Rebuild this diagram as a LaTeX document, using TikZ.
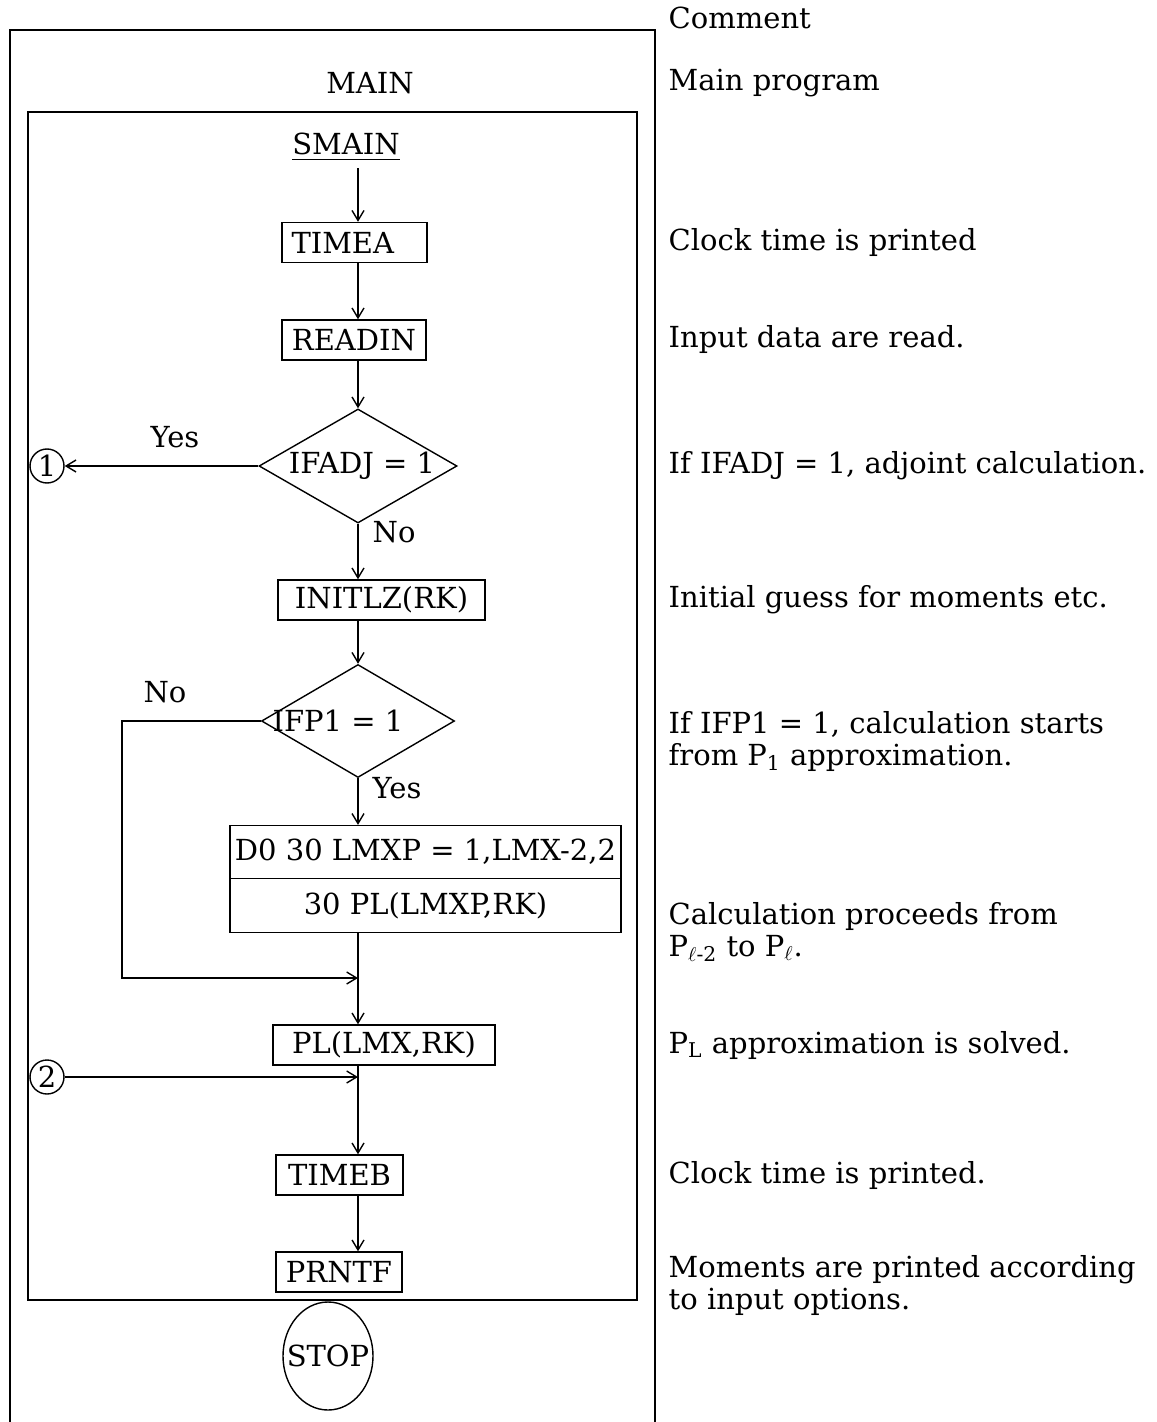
\documentclass[tikz,border=0pt]{standalone}
\usepackage{amsmath}
\usepackage{fontspec}
\setmainfont{DejaVu Serif}
\usetikzlibrary{arrows.meta, shapes.geometric, shapes.multipart}

\begin{document}
\begin{tikzpicture}[x=0.5pt, y=-0.5pt,
    font=\fontsize{14.5}{16}\selectfont,
    line width=0.7pt,
    flowArrow/.style={-{Straight Barb[length=5pt,width=6pt]}},
    progBox/.style={draw, rectangle, minimum height=20pt, inner sep=2pt},
    testBox/.style={draw, diamond, inner sep=0pt},
    jumpPt/.style={draw, circle, minimum size=17pt, inner sep=0pt},
    cmtText/.style={anchor=west, align=left, inner sep=0pt}]
    \useasboundingbox (0,0) rectangle (1156,1422);
    \newcommand{\SpineX}{358};
    \coordinate (cSpine) at (\SpineX,0);
    \coordinate (cBendB) at (122,978);
    \coordinate (cJoinA) at (\SpineX,978);
    \coordinate (cJoinB) at (\SpineX,1077);
    % frames
    \draw (10,1422) -- (10,30) -- (655,30) -- (655,1422);
    \draw (28,112) rectangle (637,1300);
    % flow chart
    \node (nMain) at (370,83) {MAIN};
    \node (nSmain) at (346,147) {\underline{SMAIN}};
    \node[progBox, minimum width=72.5pt, text width=63pt, inner xsep=4.75pt, align=left] (nTimeA) at (354.5,242.5) {TIMEA};
    \node[progBox, minimum width=72pt] (nReadin) at (354,340) {READIN};
    \node[testBox, minimum width=99pt, minimum height=57pt,
        label={[name=nAdjTxt, xshift=2pt]center:IFADJ = 1}] (nAdj) at (\SpineX,466) {};
    \node[jumpPt] (nJumpA) at (47,466) {1};
    \node (nYesA) at (175,437) {Yes};
    \node[anchor=west, inner sep=0pt] (nNoA) at (372,532) {No};
    \node[progBox, minimum width=103.5pt] (nInit) at (381.5,600) {INITLZ(RK)};
    \node[testBox, minimum width=96.5pt, minimum height=56.5pt,
        label={[name=nP1Txt, xshift=-10pt]center:IFP1 = 1}] (nP1) at (\SpineX,721) {};
    \node (nNoB) at (165,692) {No};
    \node[anchor=west, inner sep=0pt] (nYesB) at (372,788) {Yes};
    \node[progBox, rectangle split, rectangle split parts=2, minimum width=195.5pt, inner ysep=6.5pt]
        (nLoop) at (425.5,879) {D0 30 LMXP = 1,LMX-2,2\nodepart{two}30 PL(LMXP,RK)};
    \node[progBox, minimum width=111pt] (nPlMax) at (384,1045) {PL(LMX,RK)};
    \node[jumpPt] (nJumpB) at (47,1077) {2};
    \node[progBox, minimum width=63.5pt] (nTimeB) at (339.5,1175) {TIMEB};
    \node[progBox, minimum width=63pt] (nPrnt) at (339,1272) {PRNTF};
    \node[draw, ellipse, minimum width=45pt, minimum height=54pt, inner sep=0pt,
        label={[name=nStopTxt]center:STOP}] (nStop) at (328,1356) {};
    % connectors
    \draw[flowArrow] (nSmain.south -| cSpine) -- (nTimeA.north -| cSpine);
    \draw[flowArrow] (nTimeA.south -| cSpine) -- (nReadin.north -| cSpine);
    \draw[flowArrow] (nReadin.south -| cSpine) -- (nAdj.north);
    \draw[flowArrow] (nAdj.west) -- (nJumpA);
    \draw[flowArrow] (nAdj.south) -- (nInit.north -| cSpine);
    \draw[flowArrow] (nInit.south -| cSpine) -- (nP1.north);
    \draw[flowArrow] (nP1.south) -- (nLoop.north -| cSpine);
    \draw[flowArrow] (nP1.west) -| (cBendB) -- (cJoinA);
    \draw[flowArrow] (nLoop.south -| cSpine) -- (nPlMax.north -| cSpine);
    \draw[flowArrow] (nJumpB) -- (cJoinB);
    \draw[flowArrow] (nPlMax.south -| cSpine) -- (nTimeB.north -| cSpine);
    \draw[flowArrow] (nTimeB.south -| cSpine) -- (nPrnt.north -| cSpine);
    % comments
    \foreach \y/\t [count=\i] in {18/{Comment}, 83/{Main program},
        243/{Clock time is printed}, 340/{Input data are read.},
        466/{If IFADJ = 1, adjoint calculation.},
        600/{Initial guess for moments etc.},
        741/{If IFP1 = 1, calculation starts\\from P\textsubscript{1} approximation.},
        932/{Calculation proceeds from\\P$_{\ell\text{-2}}$ to P$_\ell$.},
        1045/{P\textsubscript{L} approximation is solved.},
        1175/{Clock time is printed.},
        1285/{Moments are printed according\\to input options.}}
    {
        \node[cmtText] (nCmt\i) at (668,\y) {\t};
    };
\end{tikzpicture}
\end{document}
